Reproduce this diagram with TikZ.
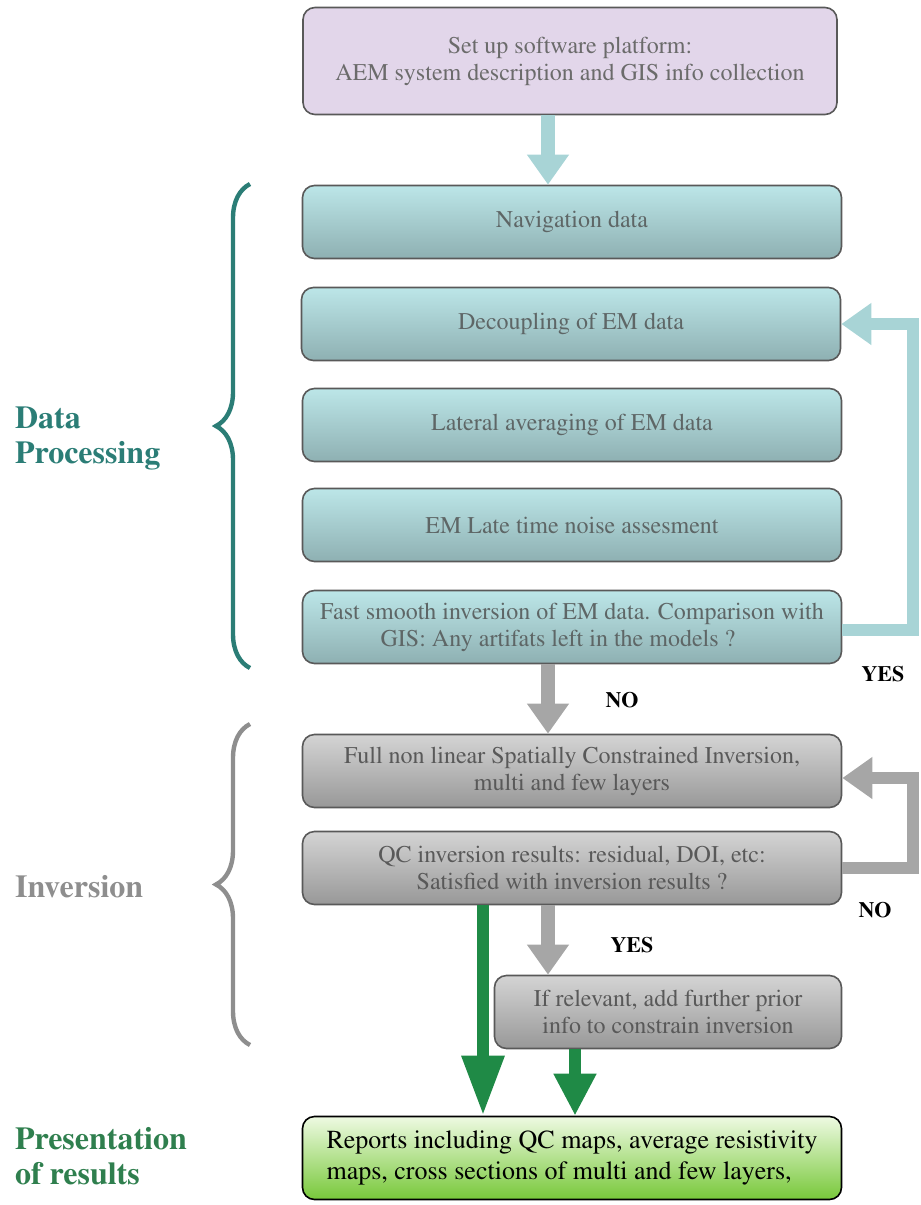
\documentclass[tikz,border=0pt]{standalone}
\usepackage[T1]{fontenc}
\usepackage{times}
\usetikzlibrary{arrows.meta, decorations.pathreplacing}

\definecolor{lilac}{HTML}{E2D6EA}
\definecolor{tealtop}{HTML}{BCE6E8}
\definecolor{tealbot}{HTML}{8EB0B2}
\definecolor{greytop}{HTML}{D4D4D4}
\definecolor{greybot}{HTML}{989898}
\definecolor{greentop}{HTML}{EEFAE2}
\definecolor{greenbot}{HTML}{78C83A}
\definecolor{tealarr}{HTML}{A8D4D6}
\definecolor{greyarr}{HTML}{A6A6A6}
\definecolor{greenarr}{HTML}{1F8A46}
\definecolor{tealtxt}{HTML}{2B7D76}
\definecolor{greytxt}{HTML}{8E8E8E}
\definecolor{greentxt}{HTML}{2F7F4E}
\definecolor{boxtxt}{HTML}{5E6666}

\tikzset{
  stepbox/.style={draw=black!65, line width=0.8pt, rounded corners=6pt, inner sep=0pt,
    minimum width=269.5pt, minimum height=36.5pt, align=center, text=boxtxt,
    font=\fontsize{12}{13.5}\selectfont},
  tealbox/.style={stepbox, top color=tealtop, bottom color=tealbot},
  greybox/.style={stepbox, top color=greytop, bottom color=greybot, text=black!65},
  fat/.style={line width=7pt, -{Triangle[length=15pt, width=20pt]}},
  answer/.style={font=\bfseries\fontsize{11}{13}\selectfont},
  phase/.style={anchor=west, align=left, font=\bfseries\fontsize{16}{17.5}\selectfont}
}

\begin{document}
\begin{tikzpicture}[x=0.5pt, y=-0.5pt]
\useasboundingbox (0,0) rectangle (921,1205);
\node[stepbox, fill=lilac, text=black!58, minimum width=267pt, minimum height=53.5pt] (setup) at (570,61)
  {Set up software platform:\\AEM system description and GIS info collection};
\node[tealbox] (nav) at (572,222) {Navigation data};
\node[tealbox] (decoup) at (571,324) {Decoupling of EM data};
\node[tealbox] (lat) at (572,425) {Lateral averaging of EM data};
\node[tealbox] (noise) at (572,525) {EM Late time noise assesment};
\node[tealbox] (fast) at (572,627)
  {Fast smooth inversion of EM data. Comparison with\\GIS: Any artifats left in the models ?\hspace*{14pt}};
\node[greybox] (full) at (572,771)
  {Full non linear Spatially Constrained Inversion,\\multi and few layers};
\node[greybox] (qc) at (572,868)
  {QC inversion results: residual, DOI, etc:\\Satisfied with inversion results ?};
\node[greybox, minimum width=173.5pt] (prior) at (668,1012)
  {If relevant, add further prior\\info to constrain inversion};
\node[stepbox, draw=black, top color=greentop, bottom color=greenbot, text=black, align=left,
  minimum height=41.5pt, font=\fontsize{13}{15.5}\selectfont] (res) at (572,1158)
  {Reports including QC maps, average resistivity\\maps, cross sections of multi and few layers,};
% Phases
\node[phase, text=tealtxt] (dp) at (8,438) {Data\\Processing};
\node[phase, text=greytxt] (inv) at (8,887) {Inversion};
\node[phase, text=greentxt] (pres) at (8,1156) {Presentation\\of results};
\draw[tealtxt, line width=2.2pt, decorate, decoration={brace, amplitude=17pt}] (250,668) -- (250,184);
\draw[greytxt, line width=2.2pt, decorate, decoration={brace, amplitude=17pt}] (250,1045) -- (250,724);
% Arrows
\coordinate (a1) at ([xshift=-11pt]setup.south);
\draw[fat, tealarr] (a1) -- (a1 |- nav.north);
\coordinate (a2) at ([xshift=-12pt]fast.south);
\draw[fat, greyarr] (a2) -- (a2 |- full.north);
\coordinate (a3) at ([xshift=-12pt]qc.south);
\draw[fat, greyarr] (a3) -- (a3 |- prior.north);
\coordinate (a4) at ([xshift=-44.5pt]qc.south);
\draw[greenarr, line width=6pt, -{Triangle[length=30pt, width=20pt]}] (a4) -- (a4 |- res.north);
\coordinate (a5) at ([xshift=-46.5pt]prior.south);
\draw[greenarr, line width=6pt, -{Triangle[length=21pt, width=20pt]}] (a5) -- (a5 |- res.north);
\draw[tealarr, line width=6pt, -{Triangle[length=15pt, width=20pt]}]
  ([yshift=-1.5pt]fast.east) -- ++(71,0) |- (decoup.east);
\draw[greyarr, line width=6pt, -{Triangle[length=15pt, width=20pt]}]
  (qc.east) -- ++(71,0) |- ([yshift=-3.5pt]full.east);
% Answers
\node[answer] (yes1) at (883,674) {YES};
\node[answer] (no1) at (622,700) {NO};
\node[answer] (no2) at (875,910) {NO};
\node[answer] (yes2) at (632,945) {YES};
\end{tikzpicture}
\end{document}
